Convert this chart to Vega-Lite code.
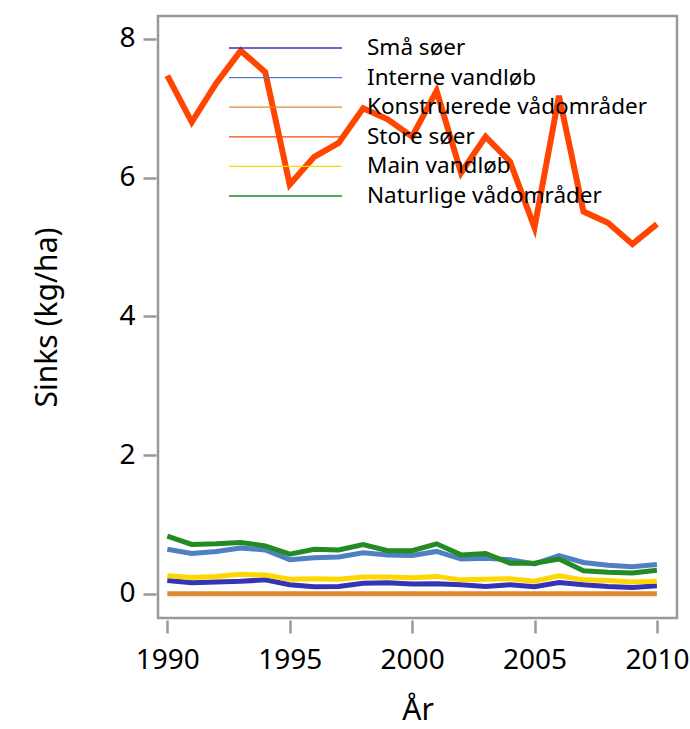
{
  "$schema": "https://vega.github.io/schema/vega-lite/v6.json",
  "width": 519,
  "height": 602,
  "autosize": {"type": "none"},
  "padding": {"left": 158, "top": 16, "right": 13, "bottom": 111},
  "background": "white",
  "config": {
    "font": "Noto Sans",
    "view": {"stroke": "#999999", "strokeWidth": 2.5},
    "axis": {
      "domain": false,
      "grid": false,
      "tickColor": "#999999",
      "tickWidth": 2.5,
      "tickSize": 13,
      "labelColor": "black",
      "titleColor": "black",
      "labelFontSize": 28,
      "titleFontSize": 30,
      "titleFontWeight": "normal"
    }
  },
  "data": {
    "values": [
      {"year": 1990, "series": "Små søer", "value": 0.19},
      {"year": 1991, "series": "Små søer", "value": 0.16},
      {"year": 1992, "series": "Små søer", "value": 0.17},
      {"year": 1993, "series": "Små søer", "value": 0.18},
      {"year": 1994, "series": "Små søer", "value": 0.20},
      {"year": 1995, "series": "Små søer", "value": 0.13},
      {"year": 1996, "series": "Små søer", "value": 0.10},
      {"year": 1997, "series": "Små søer", "value": 0.105},
      {"year": 1998, "series": "Små søer", "value": 0.15},
      {"year": 1999, "series": "Små søer", "value": 0.16},
      {"year": 2000, "series": "Små søer", "value": 0.14},
      {"year": 2001, "series": "Små søer", "value": 0.145},
      {"year": 2002, "series": "Små søer", "value": 0.13},
      {"year": 2003, "series": "Små søer", "value": 0.105},
      {"year": 2004, "series": "Små søer", "value": 0.13},
      {"year": 2005, "series": "Små søer", "value": 0.10},
      {"year": 2006, "series": "Små søer", "value": 0.16},
      {"year": 2007, "series": "Små søer", "value": 0.13},
      {"year": 2008, "series": "Små søer", "value": 0.105},
      {"year": 2009, "series": "Små søer", "value": 0.09},
      {"year": 2010, "series": "Små søer", "value": 0.115},
      {"year": 1990, "series": "Interne vandløb", "value": 0.64},
      {"year": 1991, "series": "Interne vandløb", "value": 0.58},
      {"year": 1992, "series": "Interne vandløb", "value": 0.61},
      {"year": 1993, "series": "Interne vandløb", "value": 0.66},
      {"year": 1994, "series": "Interne vandløb", "value": 0.63},
      {"year": 1995, "series": "Interne vandløb", "value": 0.49},
      {"year": 1996, "series": "Interne vandløb", "value": 0.52},
      {"year": 1997, "series": "Interne vandløb", "value": 0.53},
      {"year": 1998, "series": "Interne vandløb", "value": 0.59},
      {"year": 1999, "series": "Interne vandløb", "value": 0.56},
      {"year": 2000, "series": "Interne vandløb", "value": 0.55},
      {"year": 2001, "series": "Interne vandløb", "value": 0.61},
      {"year": 2002, "series": "Interne vandløb", "value": 0.50},
      {"year": 2003, "series": "Interne vandløb", "value": 0.51},
      {"year": 2004, "series": "Interne vandløb", "value": 0.49},
      {"year": 2005, "series": "Interne vandløb", "value": 0.43},
      {"year": 2006, "series": "Interne vandløb", "value": 0.55},
      {"year": 2007, "series": "Interne vandløb", "value": 0.45},
      {"year": 2008, "series": "Interne vandløb", "value": 0.41},
      {"year": 2009, "series": "Interne vandløb", "value": 0.39},
      {"year": 2010, "series": "Interne vandløb", "value": 0.42},
      {"year": 1990, "series": "Konstruerede vådområder", "value": 0},
      {"year": 1991, "series": "Konstruerede vådområder", "value": 0},
      {"year": 1992, "series": "Konstruerede vådområder", "value": 0},
      {"year": 1993, "series": "Konstruerede vådområder", "value": 0},
      {"year": 1994, "series": "Konstruerede vådområder", "value": 0},
      {"year": 1995, "series": "Konstruerede vådområder", "value": 0},
      {"year": 1996, "series": "Konstruerede vådområder", "value": 0},
      {"year": 1997, "series": "Konstruerede vådområder", "value": 0},
      {"year": 1998, "series": "Konstruerede vådområder", "value": 0},
      {"year": 1999, "series": "Konstruerede vådområder", "value": 0},
      {"year": 2000, "series": "Konstruerede vådområder", "value": 0},
      {"year": 2001, "series": "Konstruerede vådområder", "value": 0},
      {"year": 2002, "series": "Konstruerede vådområder", "value": 0},
      {"year": 2003, "series": "Konstruerede vådområder", "value": 0},
      {"year": 2004, "series": "Konstruerede vådområder", "value": 0},
      {"year": 2005, "series": "Konstruerede vådområder", "value": 0},
      {"year": 2006, "series": "Konstruerede vådområder", "value": 0},
      {"year": 2007, "series": "Konstruerede vådområder", "value": 0},
      {"year": 2008, "series": "Konstruerede vådområder", "value": 0},
      {"year": 2009, "series": "Konstruerede vådområder", "value": 0},
      {"year": 2010, "series": "Konstruerede vådområder", "value": 0},
      {"year": 1990, "series": "Store søer", "value": 7.47},
      {"year": 1991, "series": "Store søer", "value": 6.80},
      {"year": 1992, "series": "Store søer", "value": 7.36},
      {"year": 1993, "series": "Store søer", "value": 7.83},
      {"year": 1994, "series": "Store søer", "value": 7.52},
      {"year": 1995, "series": "Store søer", "value": 5.90},
      {"year": 1996, "series": "Store søer", "value": 6.30},
      {"year": 1997, "series": "Store søer", "value": 6.50},
      {"year": 1998, "series": "Store søer", "value": 7.00},
      {"year": 1999, "series": "Store søer", "value": 6.84},
      {"year": 2000, "series": "Store søer", "value": 6.59},
      {"year": 2001, "series": "Store søer", "value": 7.25},
      {"year": 2002, "series": "Store søer", "value": 6.07},
      {"year": 2003, "series": "Store søer", "value": 6.59},
      {"year": 2004, "series": "Store søer", "value": 6.23},
      {"year": 2005, "series": "Store søer", "value": 5.28},
      {"year": 2006, "series": "Store søer", "value": 7.18},
      {"year": 2007, "series": "Store søer", "value": 5.51},
      {"year": 2008, "series": "Store søer", "value": 5.35},
      {"year": 2009, "series": "Store søer", "value": 5.04},
      {"year": 2010, "series": "Store søer", "value": 5.33},
      {"year": 1990, "series": "Main vandløb", "value": 0.26},
      {"year": 1991, "series": "Main vandløb", "value": 0.235},
      {"year": 1992, "series": "Main vandløb", "value": 0.25},
      {"year": 1993, "series": "Main vandløb", "value": 0.28},
      {"year": 1994, "series": "Main vandløb", "value": 0.27},
      {"year": 1995, "series": "Main vandløb", "value": 0.21},
      {"year": 1996, "series": "Main vandløb", "value": 0.215},
      {"year": 1997, "series": "Main vandløb", "value": 0.21},
      {"year": 1998, "series": "Main vandløb", "value": 0.24},
      {"year": 1999, "series": "Main vandløb", "value": 0.24},
      {"year": 2000, "series": "Main vandløb", "value": 0.23},
      {"year": 2001, "series": "Main vandløb", "value": 0.25},
      {"year": 2002, "series": "Main vandløb", "value": 0.20},
      {"year": 2003, "series": "Main vandløb", "value": 0.21},
      {"year": 2004, "series": "Main vandløb", "value": 0.215},
      {"year": 2005, "series": "Main vandløb", "value": 0.18},
      {"year": 2006, "series": "Main vandløb", "value": 0.26},
      {"year": 2007, "series": "Main vandløb", "value": 0.20},
      {"year": 2008, "series": "Main vandløb", "value": 0.19},
      {"year": 2009, "series": "Main vandløb", "value": 0.17},
      {"year": 2010, "series": "Main vandløb", "value": 0.18},
      {"year": 1990, "series": "Naturlige vådområder", "value": 0.83},
      {"year": 1991, "series": "Naturlige vådområder", "value": 0.71},
      {"year": 1992, "series": "Naturlige vådområder", "value": 0.72},
      {"year": 1993, "series": "Naturlige vådområder", "value": 0.74},
      {"year": 1994, "series": "Naturlige vådområder", "value": 0.69},
      {"year": 1995, "series": "Naturlige vådområder", "value": 0.57},
      {"year": 1996, "series": "Naturlige vådområder", "value": 0.64},
      {"year": 1997, "series": "Naturlige vådområder", "value": 0.63},
      {"year": 1998, "series": "Naturlige vådområder", "value": 0.71},
      {"year": 1999, "series": "Naturlige vådområder", "value": 0.62},
      {"year": 2000, "series": "Naturlige vådområder", "value": 0.62},
      {"year": 2001, "series": "Naturlige vådområder", "value": 0.72},
      {"year": 2002, "series": "Naturlige vådområder", "value": 0.56},
      {"year": 2003, "series": "Naturlige vådområder", "value": 0.58},
      {"year": 2004, "series": "Naturlige vådområder", "value": 0.44},
      {"year": 2005, "series": "Naturlige vådområder", "value": 0.44},
      {"year": 2006, "series": "Naturlige vådområder", "value": 0.50},
      {"year": 2007, "series": "Naturlige vådområder", "value": 0.33},
      {"year": 2008, "series": "Naturlige vådområder", "value": 0.31},
      {"year": 2009, "series": "Naturlige vådområder", "value": 0.30},
      {"year": 2010, "series": "Naturlige vådområder", "value": 0.34}
    ]
  },
  "encoding": {
    "x": {
      "field": "year",
      "type": "quantitative",
      "scale": {"domain": [1989.62, 2010.82], "nice": false, "zero": false},
      "axis": {
        "title": "År",
        "values": [1990, 1995, 2000, 2005, 2010],
        "format": "d",
        "offset": 2,
        "labelPadding": 13,
        "titlePadding": 21
      }
    },
    "y": {
      "field": "value",
      "type": "quantitative",
      "scale": {"domain": [-0.35, 8.33], "nice": false, "zero": false},
      "axis": {
        "title": "Sinks (kg/ha)",
        "values": [0, 2, 4, 6, 8],
        "offset": 2,
        "labelPadding": 8,
        "titlePadding": 56
      }
    },
    "color": {
      "field": "series",
      "type": "nominal",
      "scale": {
        "domain": ["Små søer", "Interne vandløb", "Konstruerede vådområder", "Store søer", "Main vandløb", "Naturlige vådområder"],
        "range": ["#3434b4", "#4f81c2", "#de8a34", "#ff4500", "#ffd700", "#228b22"]
      },
      "legend": {
        "title": null,
        "orient": "none",
        "legendX": 112.5,
        "legendY": 17,
        "padding": 0,
        "symbolType": "M-4,0H4",
        "symbolSize": 798,
        "symbolStrokeWidth": 1.3,
        "symbolOpacity": 1,
        "labelFontSize": 22.5,
        "labelOffset": 66.5,
        "labelColor": "black",
        "rowPadding": 2.6,
        "labelLimit": 400
      }
    }
  },
  "layer": [
    {
      "transform": [{"filter": "datum.series !== 'Store søer'"}],
      "mark": {"type": "line", "strokeJoin": "miter", "strokeWidth": 5}
    },
    {
      "transform": [{"filter": "datum.series === 'Store søer'"}],
      "mark": {"type": "line", "strokeJoin": "miter", "strokeWidth": 6}
    }
  ]
}
